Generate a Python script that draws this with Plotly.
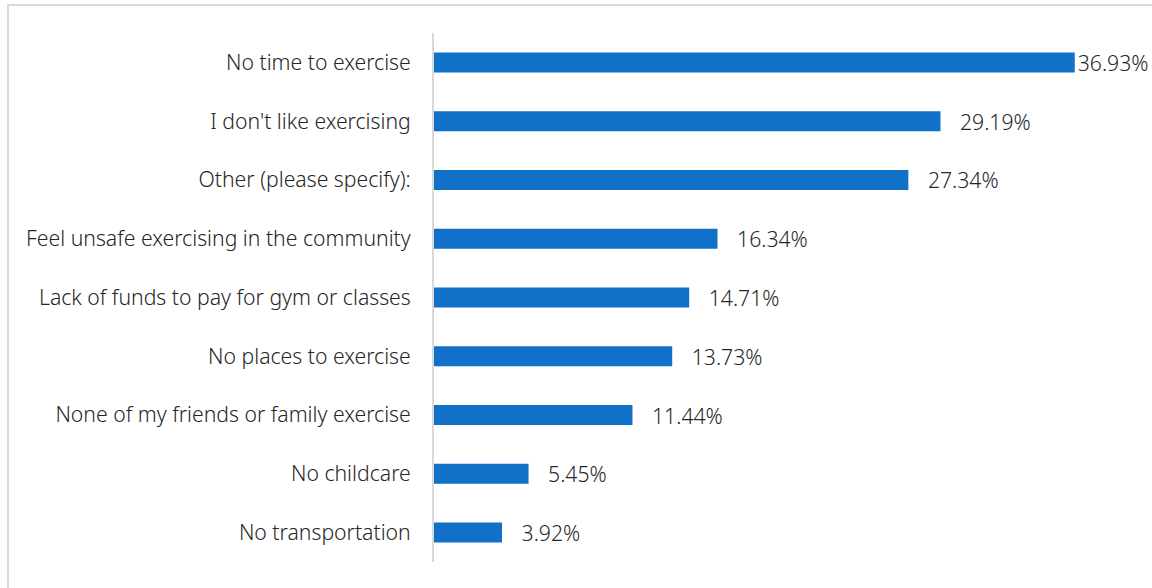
import plotly.graph_objects as go

categories = [
    "No time to exercise",
    "I don't like exercising",
    "Other (please specify):",
    "Feel unsafe exercising in the community",
    "Lack of funds to pay for gym or classes",
    "No places to exercise",
    "None of my friends or family exercise",
    "No childcare",
    "No transportation",
]
values = [36.93, 29.19, 27.34, 16.34, 14.71, 13.73, 11.44, 5.45, 3.92]

labels = [("" if i == 0 else "   ") + f"{v:.2f}%" for i, v in enumerate(values)]

W, H = 1152, 588
L, T, PW, PH = 434, 33, 694, 529

fig = go.Figure(go.Bar(
    x=values, y=categories, orientation="h",
    marker=dict(color="#1170C8", line=dict(width=0)),
    width=0.34,
    text=labels, textposition="outside", cliponaxis=False, constraintext="none",
    textfont=dict(size=21.2, color="#262626", family="Noto Sans", weight=300),
))

fig.update_layout(
    width=W, height=H,
    margin=dict(l=L, r=W - L - PW, t=T, b=H - T - PH),
    paper_bgcolor="white", plot_bgcolor="white",
    font=dict(family="Noto Sans", size=21.2, color="#262626", weight=300),
    showlegend=False,
    xaxis=dict(range=[0, 40], visible=False),
    yaxis=dict(autorange="reversed", showline=True, linecolor="#d9d9d9", linewidth=2,
               ticks="outside", ticklen=17, tickcolor="rgba(0,0,0,0)", showgrid=False),
    shapes=[dict(type="rect", xref="paper", yref="paper",
                 x0=(8 - L) / PW, x1=(W + 20 - L) / PW,
                 y0=-(H - T - PH + 20) / PH, y1=1 + (T - 5) / PH,
                 line=dict(color="#d9d9d9", width=2), fillcolor="rgba(0,0,0,0)")],
)
fig.write_html(
    "out.html",
    config={"displayModeBar": False},
    post_script="document.documentElement.style.overflow='hidden';"
                "document.body.style.margin='0';document.body.style.overflow='hidden';",
)
